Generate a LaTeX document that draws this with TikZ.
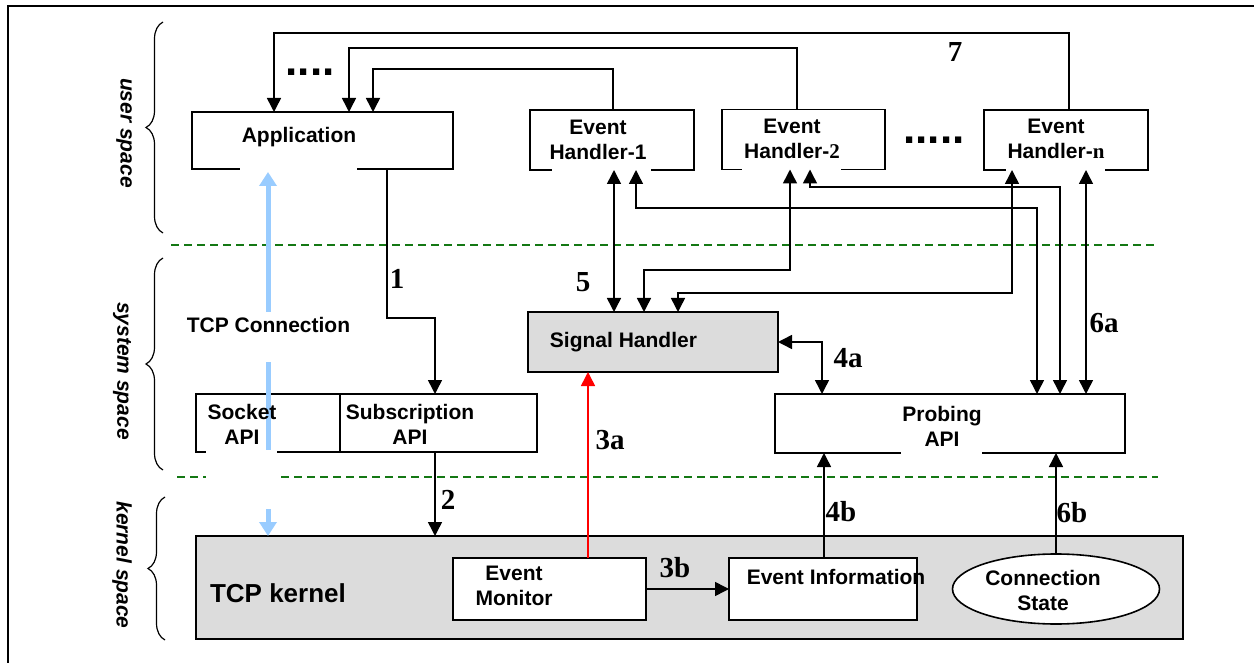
\documentclass[tikz,border=0pt]{standalone}
\usepackage{fontspec}
\setmainfont{Liberation Sans}
\newfontfamily\tms{Liberation Serif}
\usetikzlibrary{arrows.meta,decorations.pathreplacing,shapes.geometric}
\definecolor{kgray}{HTML}{DCDCDC}
\definecolor{dgreen}{RGB}{20,120,20}
\definecolor{lblue}{RGB}{153,204,255}
\tikzset{
 box/.style={draw=black, line width=1.6pt, fill=white, inner sep=0pt, outer sep=0pt},
 conn/.style={line width=1.5pt, black},
 >={Triangle[width=14pt,length=14pt]},
 lab/.style={font=\bfseries\fontsize{21}{25}\selectfont, inner sep=0pt, align=center},
 num/.style={font=\tms\bfseries\fontsize{29}{30}\selectfont, inner sep=0pt},
 sp/.style={font=\bfseries\itshape\fontsize{21}{25}\selectfont, rotate=-90, inner sep=0pt},
 dots/.style={font=\bfseries\fontsize{44}{44}\selectfont, inner sep=0pt, anchor=base},
 gdash/.style={dgreen, line width=1.6pt, dash pattern=on 8pt off 5pt},
 gapline/.style={white, line width=3pt},
 brc/.style={decorate, decoration={brace, amplitude=17pt}, line width=1.2pt},
}
\begin{document}
\begin{tikzpicture}[x=1pt,y=-1pt]
\useasboundingbox (0,0) rectangle (1254,663);
% frame
\draw[line width=1.5pt] (8,663) -- (8,6) -- (1254,6);
% braces
\draw[brc] (163,233) -- (163,22);
\draw[brc] (163,470) -- (163,258);
\draw[brc] (165,640) -- (165,497);
\node[sp] (lus) at (124,133) {user space};
\node[sp] (lss) at (122,371) {system space};
\node[sp] (lks) at (122,565) {kernel space};
% dashed separators
\draw[gdash] (171,245) -- (1158,245);
\draw[gdash] (177,477) -- (1158,477);
% boxes
\node[box, minimum width=261, minimum height=57] (app) at (322.5,140.5) {};
\node[box, minimum width=164, minimum height=60] (eh1) at (612,140) {};
\node[box, minimum width=163, minimum height=60] (eh2) at (803.5,139.5) {};
\node[box, minimum width=164, minimum height=60] (ehn) at (1066,140) {};
\node[box, fill=kgray, minimum width=250, minimum height=60] (sig) at (653,342) {};
\node[box, minimum width=144, minimum height=58] (sock) at (268,423) {};
\node[box, minimum width=197, minimum height=58] (sub) at (438.5,423) {};
\node[box, minimum width=350, minimum height=59] (prob) at (950,423.5) {};
\node[box, fill=kgray, minimum width=987, minimum height=103] (kern) at (689.5,587.5) {};
\node[box, minimum width=193, minimum height=62] (mon) at (549.5,589) {};
\node[box, minimum width=188, minimum height=62] (info) at (823,589) {};
\node[box, ellipse, minimum width=207, minimum height=70] (cst) at (1056,589) {};
% gaps in bottom borders
\draw[gapline] (240,0 |- app.south) -- (357,0 |- app.south);
\draw[gapline] (552,0 |- eh1.south) -- (651,0 |- eh1.south);
\draw[gapline] (742,0 |- eh2.south) -- (841,0 |- eh2.south);
\draw[gapline] (1006,0 |- ehn.south) -- (1105,0 |- ehn.south);
\draw[gapline] (901,0 |- prob.south) -- (982,0 |- prob.south);
% TCP connection (blue)
\draw[lblue, line width=5pt, {Triangle[width=17pt,length=14pt]}-{Triangle[width=17pt,length=14pt]}] (268,172) -- (268,0 |- kern.north);
\fill[white] (236,312) rectangle (300,362);
\fill[white] (206,450) rectangle (277,509);
% feedback loops (7)
\draw[conn,->] (ehn.north -| 1069,0) -- (1069,33) -- (274,33) -- (274,0 |- app.north);
\draw[conn,->] (eh2.north -| 797,0) -- (797,48) -- (349,48) -- (349,0 |- app.north);
\draw[conn,->] (eh1.north -| 613,0) -- (613,69) -- (373,69) -- (373,0 |- app.north);
% 1 and 2
\draw[conn,->] (app.south -| 387,0) -- (387,318) -- (435,318) -- (435,0 |- sub.north);
\draw[conn,->] (sub.south -| 435,0) -- (435,0 |- kern.north);
% handlers <-> signal handler / probing
\draw[conn,<->] (614,0 |- eh1.south) -- (614,0 |- sig.north);
\draw[conn,<->] (636,0 |- eh1.south) -- (636,208) -- (1037,208) -- (1037,0 |- prob.north);
\draw[conn,<->] (810,0 |- eh2.south) -- (810,187) -- (1060,187) -- (1060,0 |- prob.north);
\draw[conn,<->] (1086,0 |- ehn.south) -- (1086,0 |- prob.north);
\draw[conn,<->] (790,0 |- eh2.south) -- (790,270) -- (644,270) -- (644,0 |- sig.north);
\draw[conn,<->] (1012,0 |- ehn.south) -- (1012,293) -- (678,293) -- (678,0 |- sig.north);
% 4a
\draw[conn,<->] (sig.east) -- (822,0 |- sig.east) -- (822,0 |- prob.north);
% 3a red
\draw[red, line width=1.5pt, ->] (mon.north -| 588,0) -- (588,0 |- sig.south);
% 3b, 4b, 6b
\draw[conn,->] (mon.east) -- (info.west);
\draw[conn,->] (info.north -| 824,0) -- (824,0 |- prob.south);
\draw[conn,->] (cst.north) -- (cst.north |- prob.south);
% texts
\node[lab] (tapp) at (299,137) {Application};
\node[lab] (teh1) at (598,139.5) {Event\\Handler-1};
\node[lab] (teh2) at (792,138.5) {Event\\Handler-{\tms 2}};
\node[lab] (tehn) at (1056,139) {Event\\Handler-{\tms n}};
\node[dots] (d1) at (310,76) {....};
\node[dots] (d2) at (934,144) {.....};
\node[lab] (ttcp) at (268.5,325) {TCP Connection};
\node[lab] (tsig) at (623.5,342) {Signal Handler};
\node[lab] (tsock) at (242,424.5) {Socket\\API};
\node[lab] (tsub) at (410,424.5) {Subscription\\API};
\node[lab] (tprob) at (942,426) {Probing\\API};
\node[lab, font=\bfseries\fontsize{26}{30}\selectfont] (tkern) at (278,593) {TCP kernel};
\node[lab] (tmon) at (514,586) {Event\\Monitor};
\node[lab] (tinfo) at (836,577) {Event Information};
\node[lab] (tcst) at (1043,590.5) {Connection\\State};
% step numbers
\node[num] (n1) at (397,279) {1};
\node[num] (n2) at (448,500) {2};
\node[num] (n3a) at (610,440) {3a};
\node[num] (n3b) at (675,568) {3b};
\node[num] (n4a) at (848,358) {4a};
\node[num] (n4b) at (841,512) {4b};
\node[num] (n5) at (583,282) {5};
\node[num] (n6a) at (1104,323) {6a};
\node[num] (n6b) at (1072,513) {6b};
\node[num] (n7) at (955,52) {7};
\end{tikzpicture}
\end{document}
